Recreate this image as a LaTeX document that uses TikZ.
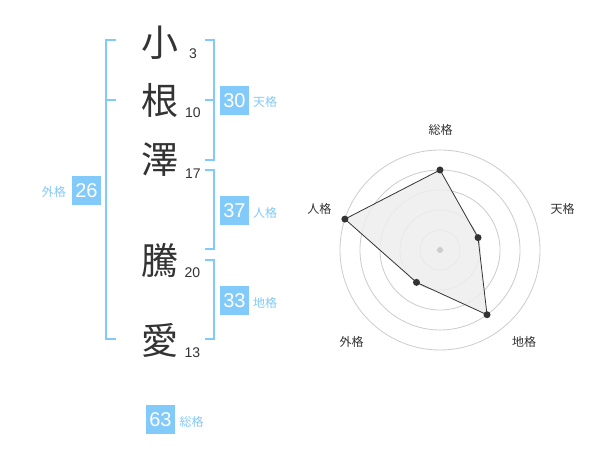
\documentclass[tikz,border=0pt]{standalone}
\usepackage{fontspec}
\setmainfont{Liberation Sans}
\newfontfamily\cjk{Noto Sans CJK JP}
\usetikzlibrary{calc}
\definecolor{kblue}{RGB}{130,202,250}
\definecolor{ktext}{RGB}{51,51,51}
\definecolor{kgrid}{RGB}{204,204,204}
\definecolor{kfill}{RGB}{238,238,238}
\tikzset{
  charnode/.style={inner sep=0pt, text=ktext, font=\fontsize{37}{37}\selectfont\cjk},
  numnode/.style={inner sep=0pt, text=ktext, font=\fontsize{14}{14}\selectfont},
  boxnode/.style={fill=kblue, text=white, minimum size=29pt, inner sep=0pt, font=\fontsize{20}{20}\selectfont},
  kaku/.style={inner sep=0pt, text=kblue, font=\fontsize{12}{12}\selectfont\cjk},
  radlabel/.style={inner sep=0pt, text=ktext, font=\fontsize{12}{12}\selectfont\cjk},
  bracket/.style={draw=kblue, line width=2pt},
  ring/.style={draw=kgrid, line width=0.8pt},
  dot/.style={circle, fill=ktext, inner sep=0pt, minimum size=7pt},
}
\begin{document}
\begin{tikzpicture}[x=1pt,y=-1pt]
\useasboundingbox (0,0) rectangle (600,470);
\fill[white] (0,0) rectangle (600,470);

% characters
\node[charnode] (c1) at (160,43) {小};
\node[charnode] (c2) at (160,100) {根};
\node[charnode] (c3) at (160,160) {澤};
\node[charnode] (c4) at (160,260) {騰};
\node[charnode] (c5) at (160,340) {愛};

% stroke numbers
\node[numnode] (n1) at (193,53.5) {3};
\node[numnode] (n2) at (193,113) {10};
\node[numnode] (n3) at (193,173.5) {17};
\node[numnode] (n4) at (192.5,273) {20};
\node[numnode] (n5) at (192.5,353) {13};

% brackets
\draw[bracket] (116,40) -- (106,40) -- (106,339.5) -- (116,339.5);
\draw[bracket] (106,100) -- (116,100);
\draw[bracket] (205,40) -- (214,40) -- (214,160) -- (205,160);
\draw[bracket] (205,100) -- (214,100);
\draw[bracket] (205,170) -- (214,170) -- (214,249.5) -- (205,249.5);
\draw[bracket] (205,260) -- (214,260) -- (214,339.5) -- (205,339.5);

% boxes
\node[boxnode] (ten) at (234.5,100.5) {30};
\node[kaku, anchor=west] (tenl) at (253,102) {天格};
\node[boxnode] (jin) at (234.5,211) {37};
\node[kaku, anchor=west] (jinl) at (253,213) {人格};
\node[boxnode] (chi) at (234.5,300.5) {33};
\node[kaku, anchor=west] (chil) at (253,302.5) {地格};
\node[boxnode] (gai) at (86.5,190.5) {26};
\node[kaku, anchor=east] (gail) at (66,192) {外格};
\node[boxnode] (sou) at (160.5,419.5) {63};
\node[kaku, anchor=west] (soul) at (179.5,421.5) {総格};

% radar chart
\coordinate (rc) at (440,250);
\foreach \r in {20,40,60,80,100} {
  \draw[ring] (rc) circle[radius=\r pt];
}
\coordinate (p1) at ($(rc)+(90:80pt)$);
\coordinate (p2) at ($(rc)+(18:40pt)$);
\coordinate (p3) at ($(rc)+(-54:80pt)$);
\coordinate (p4) at ($(rc)+(-126:40pt)$);
\coordinate (p5) at ($(rc)+(162:100pt)$);
\fill[kfill, opacity=0.85] (p1) -- (p2) -- (p3) -- (p4) -- (p5) -- cycle;
\draw[ktext, line width=0.8pt] (p1) -- (p2) -- (p3) -- (p4) -- (p5) -- cycle;
\node[circle, fill=kgrid, inner sep=0pt, minimum size=6pt] (ctr) at (rc) {};
\node[dot] (d1) at (p1) {};
\node[dot] (d2) at (p2) {};
\node[dot] (d3) at (p3) {};
\node[dot] (d4) at (p4) {};
\node[dot] (d5) at (p5) {};

\node[radlabel] (l1) at (440.7,130) {総格};
\node[radlabel] (l2) at (562.7,208.7) {天格};
\node[radlabel] (l3) at (524,341.7) {地格};
\node[radlabel] (l4) at (351.7,341.7) {外格};
\node[radlabel] (l5) at (319.3,208.7) {人格};
\end{tikzpicture}
\end{document}
